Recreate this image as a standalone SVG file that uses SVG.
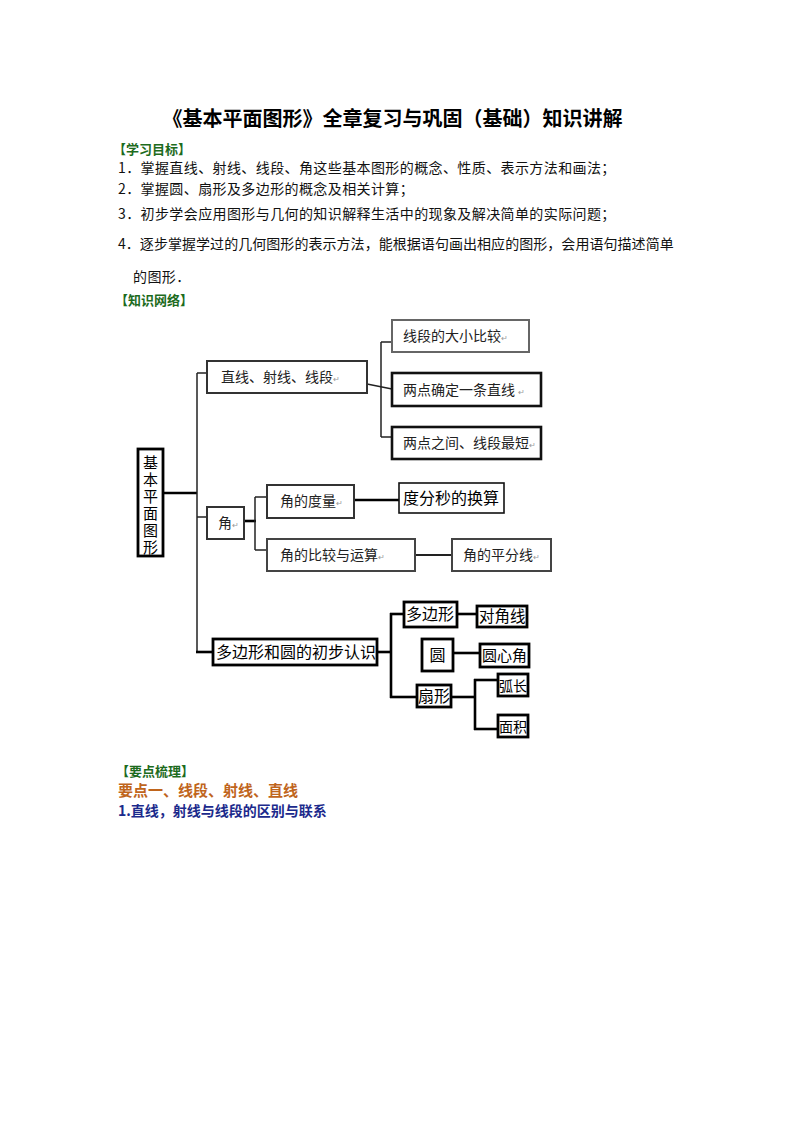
<svg xmlns="http://www.w3.org/2000/svg" width="794" height="1123" viewBox="0 0 794 1123">
<style>
text{font-family:"Noto Sans CJK SC","Noto Sans",sans-serif;}
.title{font-size:20px;font-weight:bold;fill:#000}
.t{font-size:14px;fill:#111;letter-spacing:0.4px}
.h{font-size:13px;font-weight:bold;fill:#1d6b1d}
.n{font-size:14px;fill:#222}
.m{font-size:16px;fill:#000}
.r{font-size:8px;fill:#999}
.b1{fill:#fff;stroke:#333;stroke-width:2}
.b2{fill:#fff;stroke:#111;stroke-width:2.6}
.b3{fill:#fff;stroke:#000;stroke-width:2.8}
.c line{stroke:#222;stroke-width:1.5;fill:none}
.c .k{stroke:#000;stroke-width:2.6}
</style>
<rect width="794" height="1123" fill="#fff"/>

<g id="header">
<text class="title" x="392.5" y="125.5" text-anchor="middle">《基本平面图形》全章复习与巩固（基础）知识讲解</text>
<text class="h" x="113" y="154">【学习目标】</text>
<text class="t" x="118" y="173">1．掌握直线、射线、线段、角这些基本图形的概念、性质、表示方法和画法；</text>
<text class="t" x="118" y="194">2．掌握圆、扇形及多边形的概念及相关计算；</text>
<text class="t" x="118" y="219">3．初步学会应用图形与几何的知识解释生活中的现象及解决简单的实际问题；</text>
<text class="t" x="118" y="249" style="letter-spacing:0.05px">4．逐步掌握学过的几何图形的表示方法，能根据语句画出相应的图形，会用语句描述简单</text>
<text class="t" x="133" y="282">的图形．</text>
<text class="h" x="115" y="305">【知识网络】</text>
</g>

<g id="connectors" class="c">
<line class="k" x1="163" y1="493" x2="197" y2="493"/>
<line x1="197" y1="373" x2="197" y2="652"/>
<line x1="197" y1="373" x2="207" y2="373"/>
<line x1="197" y1="517" x2="207" y2="517"/>
<line class="k" x1="196" y1="652" x2="213" y2="652"/>
<line x1="381" y1="342" x2="381" y2="437"/>
<line x1="381" y1="342" x2="392" y2="342"/>
<line x1="381" y1="437" x2="392" y2="437"/>
<line x1="367" y1="384" x2="392" y2="389"/>
<line class="k" x1="244" y1="521" x2="256" y2="521"/>
<line x1="255" y1="497" x2="255" y2="550"/>
<line x1="255" y1="497" x2="267" y2="497"/>
<line x1="255" y1="550" x2="267" y2="550"/>
<line class="k" x1="354" y1="500" x2="399" y2="500"/>
<line x1="415" y1="555" x2="452" y2="555" style="stroke-width:2"/>
<line class="k" x1="377" y1="652" x2="391" y2="652"/>
<line class="k" x1="391" y1="613" x2="391" y2="698"/>
<line class="k" x1="390" y1="614" x2="404" y2="614"/>
<line class="k" x1="390" y1="697" x2="417" y2="697"/>
<line class="k" x1="457" y1="614" x2="477" y2="614"/>
<line class="k" x1="453" y1="653" x2="480" y2="653"/>
<line class="k" x1="451" y1="697" x2="476" y2="697"/>
<line class="k" x1="475" y1="679" x2="475" y2="730"/>
<line class="k" x1="474" y1="680" x2="498" y2="680"/>
<line class="k" x1="474" y1="729" x2="498" y2="729"/>
</g>

<g id="root">
<rect class="b3" x="138" y="449" width="25" height="107"/>
<text class="m" x="150.5" y="455" style="font-size:15px;writing-mode:vertical-rl;letter-spacing:2px">基本平面图形</text>
</g>

<g id="n-line">
<rect class="b1" x="207" y="361" width="160" height="32"/>
<text class="n" x="221" y="382">直线、射线、线段<tspan class="r">↵</tspan></text>
</g>
<g id="n-compare">
<rect class="b1" x="392" y="320" width="137" height="32" style="stroke:#666"/>
<text class="n" x="403" y="341">线段的大小比较<tspan class="r">↵</tspan></text>
</g>
<g id="n-twopoints">
<rect class="b2" x="392" y="373" width="149" height="33"/>
<text class="n" x="403" y="395">两点确定一条直线 <tspan class="r">↵</tspan></text>
</g>
<g id="n-shortest">
<rect class="b2" x="392" y="427" width="149" height="32"/>
<text class="n" x="403" y="448">两点之间、线段最短<tspan class="r">↵</tspan></text>
</g>

<g id="n-angle">
<rect class="b1" x="207" y="507" width="37" height="32"/>
<text class="n" x="218" y="528">角<tspan class="r">↵</tspan></text>
</g>
<g id="n-measure">
<rect class="b1" x="267" y="485" width="87" height="33"/>
<text class="n" x="280" y="506">角的度量<tspan class="r">↵</tspan></text>
</g>
<g id="n-dms">
<rect class="b2" x="399" y="483" width="105" height="30" style="stroke-width:1.6"/>
<text class="m" x="403" y="504">度分秒的换算</text>
</g>
<g id="n-anglecmp">
<rect class="b1" x="267" y="539" width="148" height="32" style="stroke:#444"/>
<text class="n" x="280" y="560">角的比较与运算<tspan class="r">↵</tspan></text>
</g>
<g id="n-bisector">
<rect class="b1" x="452" y="539" width="99" height="32" style="stroke:#444"/>
<text class="n" x="463" y="560">角的平分线<tspan class="r">↵</tspan></text>
</g>

<g id="n-polycircle">
<rect class="b3" x="213" y="639" width="164" height="26"/>
<text class="m" x="216" y="658">多边形和圆的初步认识</text>
</g>
<g id="n-polygon">
<rect class="b3" x="404" y="602" width="53" height="25"/>
<text class="m" x="406" y="620">多边形</text>
</g>
<g id="n-diagonal">
<rect class="b3" x="477" y="606" width="50" height="21"/>
<text class="m" x="479" y="622" style="font-size:15.5px">对角线</text>
</g>
<g id="n-circle">
<rect class="b3" x="422" y="639" width="31" height="32"/>
<text class="m" x="437.5" y="661" text-anchor="middle">圆</text>
</g>
<g id="n-central">
<rect class="b3" x="480" y="644" width="49" height="23"/>
<text class="m" x="482" y="661" style="font-size:15px">圆心角</text>
</g>
<g id="n-sector">
<rect class="b3" x="417" y="685" width="34" height="22"/>
<text class="m" x="418" y="702">扇形</text>
</g>
<g id="n-arc">
<rect class="b3" x="498" y="674" width="30" height="22"/>
<text class="m" x="499" y="690.5" style="font-size:14px">弧长</text>
</g>
<g id="n-area">
<rect class="b3" x="498" y="715" width="30" height="22"/>
<text class="m" x="499" y="731.5" style="font-size:14px">面积</text>
</g>

<g id="footer">
<text class="h" x="116" y="776">【要点梳理】</text>
<text x="118" y="795.5" style="font-size:15px;font-weight:bold;fill:#c0651c">要点一、线段、射线、直线</text>
<text x="118" y="816" style="font-size:14px;font-weight:bold;fill:#1b2a8c">1.直线，射线与线段的区别与联系</text>
</g>
</svg>
